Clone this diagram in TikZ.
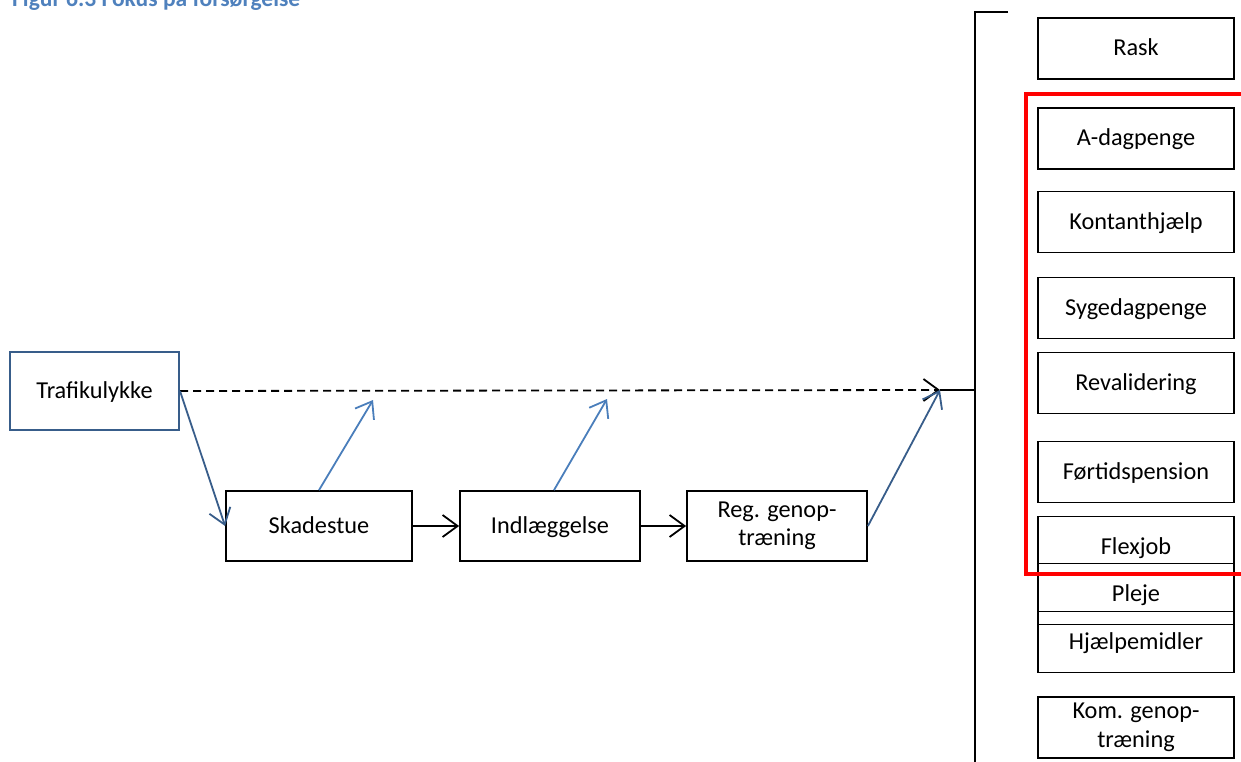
\documentclass[tikz,border=0pt]{standalone}
\usepackage{fontspec}
\setmainfont{Carlito}
\usetikzlibrary{arrows.meta}
\definecolor{titleblue}{HTML}{4F81BD}
\definecolor{darkblue}{HTML}{385D8A}
\definecolor{lightblue}{HTML}{4A7EBB}
\begin{document}
\begin{tikzpicture}[x=1pt,y=-1pt,
  txt/.style={font=\fontsize{24.3}{28.5}\selectfont},
  box/.style={draw=black, line width=1.8pt, fill=white, inner sep=0pt, align=center, txt},
  one/.style={text height=18pt, text depth=3pt},
  flowbox/.style={box, minimum width=180pt, minimum height=70pt},
  sidebox/.style={box, minimum width=196pt, minimum height=61pt},
  barb/.style={-{Straight Barb[length=15pt,width=22pt]}},
  conn/.style={line width=1.8pt, barb},
]
\useasboundingbox (0,0) rectangle (1241,762);
\clip (0,0) rectangle (1241,762);

% title (partly cut off at top, as in the source)
\node[anchor=base west, inner sep=0pt, text=titleblue,
      font=\fontsize{23.5}{28}\selectfont\bfseries] (title) at (12,7) {Figur 6.3 Fokus på forsørgelse};

% left flow
\node[box, one, draw=darkblue, line width=2pt, minimum width=169pt, minimum height=78pt] (T) at (94.5,391) {Trafikulykke};
\node[flowbox, one, minimum width=186pt] (S) at (319,526) {Skadestue};
\node[flowbox, one] (I) at (550,526) {Indlæggelse};
\node[flowbox] (R) at (777,526) {Reg. genop-\\træning};

% junction and bracket
\coordinate (J) at (940,390);
\coordinate (Jv) at (975,390);
\coordinate (Vtop) at (975,12);
\coordinate (Vbot) at (975,775);
\coordinate (Tick) at (1008,12);
\draw[line width=2.2pt] (J) -- (Jv);
\draw[line width=2.2pt] (Tick) -- (Vtop) -- (Vbot);

% connectors
\draw[conn, dashed, dash pattern=on 8pt off 5pt] (T.east) -- (J);
\draw[conn, draw=darkblue] (T.east) -- (S.west);
\draw[conn] (S.east) -- (I.west);
\draw[conn] (I.east) -- (R.west);
\draw[conn, draw=darkblue] (R.east) -- (J);

\coordinate (a1) at (373,400);
\coordinate (a2) at (607,399);
\draw[conn, draw=lightblue] (S.north) -- (a1);
\draw[conn, draw=lightblue] ([xshift=4pt]I.north) -- (a2);

% right column
\node[sidebox, one] (rask) at (1136,48.5) {Rask};
\node[sidebox, one] (adag) at (1136,138.5) {A-dagpenge};
\node[sidebox, one] (kont) at (1136,222) {Kontanthjælp};
\node[sidebox, one] (syge) at (1136,308) {Sygedagpenge};
\node[sidebox, one] (reva) at (1136,383) {Revalidering};
\node[sidebox, one] (fort) at (1136,472) {Førtidspension};
\node[sidebox, one] (flex) at (1136,547) {Flexjob};
\node[sidebox, one] (plej) at (1136,594) {Pleje};
\node[sidebox, one, fill=none] (hjae) at (1136,642) {Hjælpemidler};
\node[sidebox] (komg) at (1136,727.5) {Kom. genop-\\træning};

% red frame (open to the right)
\draw[red, line width=3.5pt] (1260,94) -- (1026,94) -- (1026,574) -- (1260,574);
\end{tikzpicture}
\end{document}
